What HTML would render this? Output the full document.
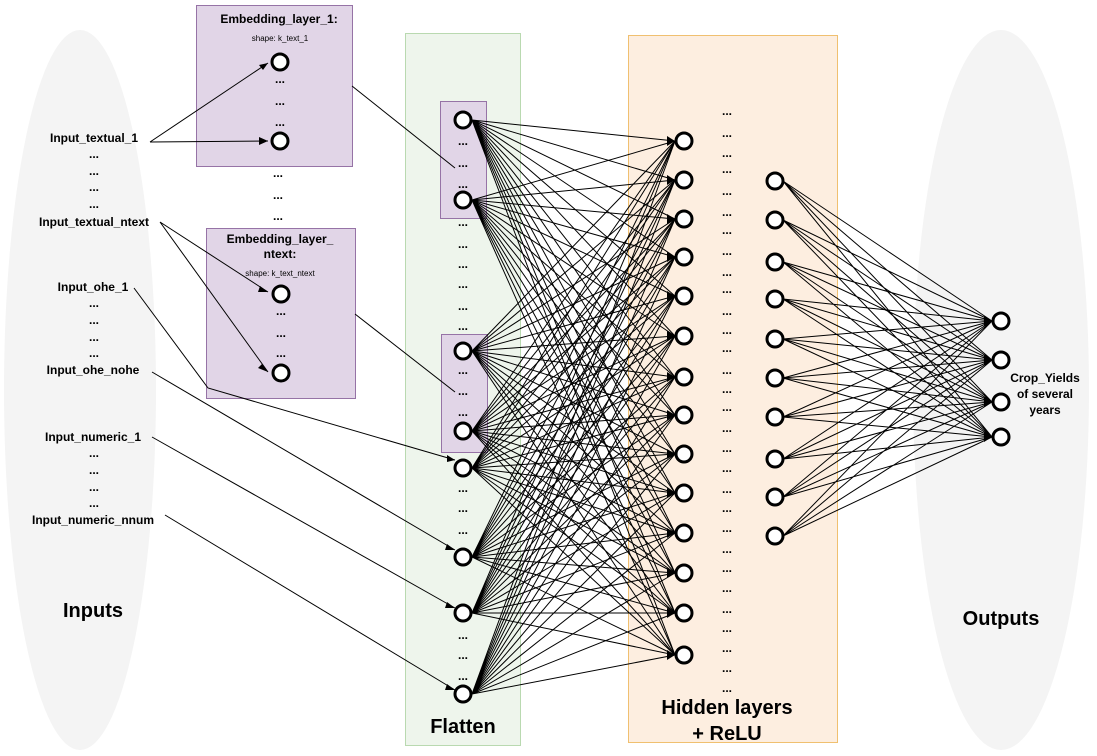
<!DOCTYPE html>
<html><head><meta charset="utf-8"><style>
body{margin:0;background:#fff;}
svg{display:block;font-family:"Liberation Sans",sans-serif;}
.b{font-weight:bold;}
</style></head><body>
<svg width="1097" height="756" viewBox="0 0 1097 756" xmlns="http://www.w3.org/2000/svg">
<ellipse cx="80" cy="390" rx="76" ry="360" fill="#f4f4f4"/>
<ellipse cx="1001" cy="390" rx="88" ry="360" fill="#f4f4f4"/>
<rect x="405.5" y="33.5" width="115" height="712" fill="#eef5ec" stroke="#b9d9b0"/>
<rect x="628.5" y="35.5" width="209" height="707" fill="#fdeee0" stroke="#f0c070"/>
<rect x="196.5" y="5.5" width="156" height="161" fill="#e1d5e7" stroke="#9673a6"/>
<rect x="206.5" y="228.5" width="149" height="170" fill="#e1d5e7" stroke="#9673a6"/>
<rect x="440.5" y="101.5" width="46" height="117" fill="#e1d5e7" stroke="#9673a6"/>
<rect x="441.5" y="334.5" width="46" height="118" fill="#e1d5e7" stroke="#9673a6"/>

<g stroke="#000" stroke-width="1" fill="none">
<path d="M472 120L675 141M472 120L675 180M472 120L675 219M472 120L675 257M472 120L675 296M472 120L675 336M472 120L675 377M472 120L675 415M472 120L675 454M472 120L675 493M472 120L675 533M472 120L675 573M472 120L675 613M472 120L675 655"/>
<path d="M472 200L675 141M472 200L675 180M472 200L675 219M472 200L675 257M472 200L675 296M472 200L675 336M472 200L675 377M472 200L675 415M472 200L675 454M472 200L675 493M472 200L675 533M472 200L675 573M472 200L675 613M472 200L675 655"/>
<path d="M472 351L675 141M472 351L675 180M472 351L675 219M472 351L675 257M472 351L675 296M472 351L675 336M472 351L675 377M472 351L675 415M472 351L675 454M472 351L675 493M472 351L675 533M472 351L675 573M472 351L675 613M472 351L675 655"/>
<path d="M472 431L675 141M472 431L675 180M472 431L675 219M472 431L675 257M472 431L675 296M472 431L675 336M472 431L675 377M472 431L675 415M472 431L675 454M472 431L675 493M472 431L675 533M472 431L675 573M472 431L675 613M472 431L675 655"/>
<path d="M472 468L675 141M472 468L675 180M472 468L675 219M472 468L675 257M472 468L675 296M472 468L675 336M472 468L675 377M472 468L675 415M472 468L675 454M472 468L675 493M472 468L675 533M472 468L675 573M472 468L675 613M472 468L675 655"/>
<path d="M472 557L675 141M472 557L675 180M472 557L675 219M472 557L675 257M472 557L675 296M472 557L675 336M472 557L675 377M472 557L675 415M472 557L675 454M472 557L675 493M472 557L675 533M472 557L675 573M472 557L675 613M472 557L675 655"/>
<path d="M472 613L675 141M472 613L675 180M472 613L675 219M472 613L675 257M472 613L675 296M472 613L675 336M472 613L675 377M472 613L675 415M472 613L675 454M472 613L675 493M472 613L675 533M472 613L675 573M472 613L675 613M472 613L675 655"/>
<path d="M472 694L675 141M472 694L675 180M472 694L675 219M472 694L675 257M472 694L675 296M472 694L675 336M472 694L675 377M472 694L675 415M472 694L675 454M472 694L675 493M472 694L675 533M472 694L675 573M472 694L675 613M472 694L675 655"/>

<path d="M783 181L992 321M783 181L992 360M783 181L992 402M783 181L992 437M783 220L992 321M783 220L992 360M783 220L992 402M783 220L992 437M783 262L992 321M783 262L992 360M783 262L992 402M783 262L992 437M783 299L992 321M783 299L992 360M783 299L992 402M783 299L992 437M783 339L992 321M783 339L992 360M783 339L992 402M783 339L992 437M783 378L992 321M783 378L992 360M783 378L992 402M783 378L992 437M783 417L992 321M783 417L992 360M783 417L992 402M783 417L992 437M783 459L992 321M783 459L992 360M783 459L992 402M783 459L992 437M783 497L992 321M783 497L992 360M783 497L992 402M783 497L992 437M783 536L992 321M783 536L992 360M783 536L992 402M783 536L992 437"/>

<path d="M150 142L268 63M150 142L268 141M160 222L268 292M160 222L268 372"/>
<path d="M134 288L208 388L455 460M152 372L455 550M152 437L455 608M165 515L455 690"/>
<path d="M352 86L455 168M355 314L455 392"/>
</g>

<g fill="#000">
<path d="M268 63l-9 2l4 5z M268 141l-9-4v8z M268 292l-8-6l-2 6z M268 372l-6-8l-4 4z M455 460l-8-5v7z M455 550l-8-6l-2 6z M455 608l-8-6l-2 6z M455 690l-8-6l-2 6z"/>
<g id="ah"><path d="M675 141l-8-5v10z"/></g>
<use href="#ah" y="39"/><use href="#ah" y="78"/><use href="#ah" y="116"/><use href="#ah" y="155"/><use href="#ah" y="195"/><use href="#ah" y="236"/><use href="#ah" y="274"/><use href="#ah" y="313"/><use href="#ah" y="352"/><use href="#ah" y="392"/><use href="#ah" y="432"/><use href="#ah" y="472"/><use href="#ah" y="514"/>
<path d="M992 321l-8-5v10zM992 360l-8-5v10zM992 402l-8-5v10zM992 437l-8-5v10z"/>
</g>

<g fill="#fff" stroke="#000" stroke-width="3">
<circle cx="280" cy="62" r="8"/><circle cx="280" cy="141" r="8"/>
<circle cx="281" cy="294" r="8"/><circle cx="281" cy="373" r="8"/>
<circle cx="463" cy="120" r="8"/><circle cx="463" cy="200" r="8"/><circle cx="463" cy="351" r="8"/><circle cx="463" cy="431" r="8"/><circle cx="463" cy="468" r="8"/><circle cx="463" cy="557" r="8"/><circle cx="463" cy="613" r="8"/><circle cx="463" cy="694" r="8"/>
<circle cx="684" cy="141" r="8"/><circle cx="684" cy="180" r="8"/><circle cx="684" cy="219" r="8"/><circle cx="684" cy="257" r="8"/><circle cx="684" cy="296" r="8"/><circle cx="684" cy="336" r="8"/><circle cx="684" cy="377" r="8"/><circle cx="684" cy="415" r="8"/><circle cx="684" cy="454" r="8"/><circle cx="684" cy="493" r="8"/><circle cx="684" cy="533" r="8"/><circle cx="684" cy="573" r="8"/><circle cx="684" cy="613" r="8"/><circle cx="684" cy="655" r="8"/>
<circle cx="775" cy="181" r="8"/><circle cx="775" cy="220" r="8"/><circle cx="775" cy="262" r="8"/><circle cx="775" cy="299" r="8"/><circle cx="775" cy="339" r="8"/><circle cx="775" cy="378" r="8"/><circle cx="775" cy="417" r="8"/><circle cx="775" cy="459" r="8"/><circle cx="775" cy="497" r="8"/><circle cx="775" cy="536" r="8"/>
<circle cx="1001" cy="321" r="8"/><circle cx="1001" cy="360" r="8"/><circle cx="1001" cy="402" r="8"/><circle cx="1001" cy="437" r="8"/>
</g>

<g font-size="12" class="b" text-anchor="middle" fill="#000">
<text x="94" y="142">Input_textual_1</text>
<text x="94" y="226">Input_textual_ntext</text>
<text x="93" y="291">Input_ohe_1</text>
<text x="93" y="374">Input_ohe_nohe</text>
<text x="93" y="441">Input_numeric_1</text>
<text x="93" y="524">Input_numeric_nnum</text>
<text x="94" y="158">...</text><text x="94" y="175">...</text><text x="94" y="191">...</text><text x="94" y="208">...</text>
<text x="94" y="307">...</text><text x="94" y="324">...</text><text x="94" y="341">...</text><text x="94" y="357">...</text>
<text x="94" y="457">...</text><text x="94" y="474">...</text><text x="94" y="491">...</text><text x="94" y="507">...</text>
<text x="279" y="23" font-size="12">Embedding_layer_1:</text>
<text x="280" y="243">Embedding_layer_</text>
<text x="280" y="258">ntext:</text>
<text x="280" y="83">...</text><text x="280" y="105">...</text><text x="280" y="126">...</text>
<text x="278" y="177">...</text><text x="278" y="199">...</text><text x="278" y="220">...</text>
<text x="281" y="315">...</text><text x="281" y="337">...</text><text x="281" y="357">...</text>
<text x="463" y="145">...</text><text x="463" y="167">...</text><text x="463" y="188">...</text>
<text x="463" y="226">...</text><text x="463" y="248">...</text><text x="463" y="268">...</text><text x="463" y="288">...</text><text x="463" y="310">...</text><text x="463" y="330">...</text>
<text x="463" y="374">...</text><text x="463" y="395">...</text><text x="463" y="416">...</text>
<text x="463" y="492">...</text><text x="463" y="512">...</text><text x="463" y="534">...</text>
<text x="463" y="639">...</text><text x="463" y="659">...</text><text x="463" y="680">...</text>
<text x="1045" y="382">Crop_Yields</text>
<text x="1045" y="398">of several</text>
<text x="1045" y="414">years</text>
</g>
<g font-size="12" class="b" text-anchor="middle">
<text x="727" y="115">...</text><text x="727" y="137">...</text><text x="727" y="157">...</text><text x="727" y="173">...</text><text x="727" y="195">...</text><text x="727" y="216">...</text><text x="727" y="234">...</text><text x="727" y="255">...</text><text x="727" y="276">...</text><text x="727" y="293">...</text><text x="727" y="315">...</text><text x="727" y="334">...</text><text x="727" y="352">...</text><text x="727" y="374">...</text><text x="727" y="393">...</text><text x="727" y="411">...</text><text x="727" y="432">...</text><text x="727" y="452">...</text><text x="727" y="472">...</text><text x="727" y="493">...</text><text x="727" y="512">...</text><text x="727" y="532">...</text><text x="727" y="553">...</text><text x="727" y="572">...</text><text x="727" y="592">...</text><text x="727" y="613">...</text><text x="727" y="632">...</text><text x="727" y="652">...</text><text x="727" y="672">...</text><text x="727" y="692">...</text>
</g>
<g font-size="8" text-anchor="middle" fill="#000">
<text x="280" y="41">shape: k_text_1</text>
<text x="280" y="276">shape: k_text_ntext</text>
</g>
<g font-size="20" class="b" text-anchor="middle" fill="#000">
<text x="93" y="617">Inputs</text>
<text x="463" y="733">Flatten</text>
<text x="727" y="714">Hidden layers</text>
<text x="727" y="740">+ ReLU</text>
<text x="1001" y="625">Outputs</text>
</g>
</svg>
</body></html>
